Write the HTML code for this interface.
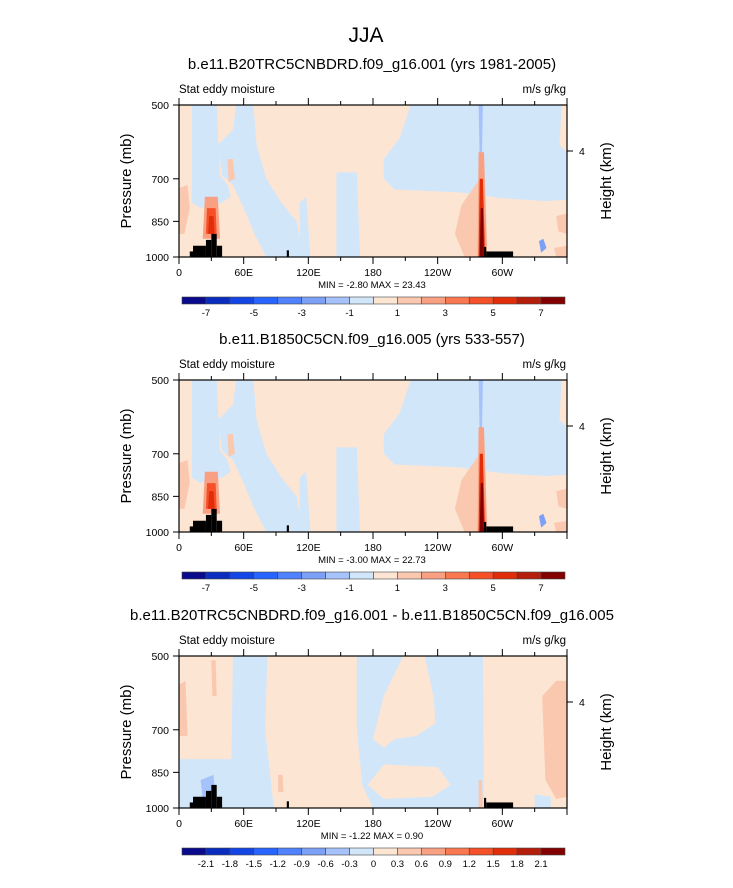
<!DOCTYPE html>
<html><head><meta charset="utf-8"><style>
body{margin:0;background:#fff;width:733px;height:888px;overflow:hidden}
svg{display:block}
text{font-family:"Liberation Sans",sans-serif;fill:#000}
</style></head><body>
<svg id="fig" width="733" height="888"></svg>
<script>
const lonTicks=[0,60,120,180,240,300];
const lonLabels=["0","60E","120E","180","120W","60W"];
const presTicks=[500,700,850,1000];
const colors=['#0a0a8c','#0a2dc0','#1446e6','#2864ff','#5082ff','#7ca0f5','#a5c3fa','#d2e6fa','#fde5d3','#fac8af','#faa082','#fa7850','#f55028','#e12d0a','#b41e0a','#820000'];
const cbLabels1=["-7","","-5","","-3","","-1","","1","","3","","5","","7"];
const cbLabels3=["-2.1","-1.8","-1.5","-1.2","-0.9","-0.6","-0.3","0","0.3","0.6","0.9","1.2","1.5","1.8","2.1"];
const titles=["b.e11.B20TRC5CNBDRD.f09_g16.001 (yrs 1981-2005)","b.e11.B1850C5CN.f09_g16.005 (yrs 533-557)","b.e11.B20TRC5CNBDRD.f09_g16.001 - b.e11.B1850C5CN.f09_g16.005"];
const minmax=["MIN =  -2.80  MAX =  23.43","MIN =  -3.00  MAX =  22.73","MIN =  -1.22  MAX =   0.90"];
// regions: [colorIndex, [[lon,p],...]]
const base12=[
 [7,[[12,500],[35,500],[36,560],[38,690],[45,720],[48,760],[40,780],[20,800],[12,780],[12,650]]],
 [7,[[53,500],[69,500],[72,600],[81,700],[95,780],[109,850],[115,1000],[81,1000],[70,900],[60,800],[50,720],[40,690],[36,600],[50,560]]],
 [7,[[146,680],[165,680],[168,1000],[146,1000]]],
 [7,[[112,780],[118,760],[122,1000],[112,1000]]],
 [7,[[215,500],[355,500],[353,600],[360,620],[360,770],[340,775],[300,765],[260,745],[200,735],[190,700],[190,640],[205,580]]],
 [6,[[278,500],[282,500],[281,640],[279,640]]],
 [5,[[334,930],[338,920],[341,960],[336,980]]],
 [9,[[0,730],[8,720],[10,800],[5,900],[0,900]]],
 [9,[[45,640],[50,640],[52,700],[46,710]]],
 [9,[[262,790],[279,700],[285,1000],[265,1000],[256,900]]],
 [9,[[350,830],[360,820],[360,900],[352,890]]],
 [9,[[348,960],[360,950],[360,1000],[350,1000]]],
 [10,[[24,760],[36,760],[38,920],[22,920]]],
 [12,[[26,800],[34,800],[35,900],[25,900]]],
 [13,[[28,830],[32,830],[33,900],[27,900]]],
 [10,[[278,620],[283,620],[286,1000],[277,1000]]],
 [13,[[279,700],[282,700],[284,1000],[278,1000]]],
 [15,[[280,800],[282,800],[283,1000],[279,1000]]]
];
const base3=[
 [7,[[0,800],[60,800],[60,1000],[0,1000]]],
 [7,[[50,500],[82,500],[80,700],[88,1000],[48,1000]]],
 [7,[[165,500],[282,500],[283,1000],[180,1000],[170,900],[165,700]]],
 [8,[[208,500],[228,500],[236,600],[238,680],[220,720],[200,730],[190,760],[180,730],[190,600]]],
 [8,[[190,820],[240,830],[252,900],[235,950],[190,960],[175,900]]],
 [7,[[330,940],[345,950],[345,1000],[330,1000]]],
 [9,[[0,570],[6,560],[8,720],[0,720]]],
 [9,[[30,510],[34,510],[35,600],[31,600]]],
 [9,[[337,600],[350,560],[360,560],[360,950],[350,960],[340,880]]],
 [9,[[92,860],[96,860],[97,930],[92,930]]],
 [6,[[20,880],[32,860],[34,950],[22,960]]],
 [9,[[278,880],[281,880],[282,1000],[278,1000]]]
];
const terrainLon=[[10,13,975],[13,25,950],[25,30,925],[30,35,900],[35,40,950],[100,102,970],[283,285,955],[285,310,975]];
const panels=[{top:105,regions:base12,cb:cbLabels1},{top:380,regions:base12,cb:cbLabels1},{top:656,regions:base3,cb:cbLabels3}];
const NS="http://www.w3.org/2000/svg";
const svg=document.getElementById('fig');
const L=179,R=567,H=152;
function mk(tag,attrs,parent,txt){const e=document.createElementNS(NS,tag);for(const k in attrs)e.setAttribute(k,attrs[k]);if(txt!==undefined)e.textContent=txt;(parent||svg).appendChild(e);return e;}
const xs=lon=>L+lon/360*(R-L);
const ys=(top,p)=>top+Math.log(p/500)/Math.log(2)*H;
let t=mk('text',{x:366,y:42,'text-anchor':'middle','font-size':21},svg,'JJA');


panels.forEach((pn,i)=>{
 const top=pn.top,bot=top+H;
 const g=mk('g',{},svg);
 
 
 let tt=mk('text',{x:372,y:top-36,'text-anchor':'middle','font-size':15},g,titles[i]);
 
 
 mk('text',{x:179,y:top-12,'font-size':11.5},g,'Stat eddy moisture');
 mk('text',{x:566,y:top-12,'text-anchor':'end','font-size':11.5},g,'m/s g/kg');
 mk('rect',{x:L,y:top,width:R-L,height:H,fill:colors[8]},g);
 pn.regions.forEach(r=>{
  const pts=r[1].map(q=>xs(q[0]).toFixed(1)+','+ys(top,q[1]).toFixed(1)).join(' ');
  const pg=mk('polygon',{points:pts,fill:colors[r[0]]},g);
  
  
 });
 terrainLon.forEach(tr=>{
  const rc=mk('rect',{x:xs(tr[0]),y:ys(top,tr[2]),width:xs(tr[1])-xs(tr[0]),height:bot-ys(top,tr[2]),fill:'#000'},g);
  
  
 });
 mk('rect',{x:L,y:top,width:R-L,height:H,fill:'none',stroke:'#000','stroke-width':1.2},g);
 for(let lon=0;lon<=360;lon+=30){
  const x=xs(lon),len=lon%60==0?7:4;
  mk('line',{x1:x,x2:x,y1:bot,y2:bot+len,stroke:'#000'},g);
  mk('line',{x1:x,x2:x,y1:top,y2:top-len,stroke:'#000'},g);
 }
 lonTicks.forEach((lon,j)=>mk('text',{x:xs(lon),y:bot+19,'text-anchor':'middle','font-size':10.5},g,lonLabels[j]));
 presTicks.forEach(p=>{const y=ys(top,p);mk('line',{x1:L-6,x2:L,y1:y,y2:y,stroke:'#000'},g);mk('text',{x:L-10,y:y+4,'text-anchor':'end','font-size':10.5},g,String(p));});
 const y4=top+46;
 mk('line',{x1:R,x2:R+6,y1:y4,y2:y4,stroke:'#000'},g);
 mk('text',{x:R+12,y:y4+4,'font-size':10.5},g,'4');
 mk('text',{x:0,y:0,'font-size':15,transform:`translate(131,${top+76}) rotate(-90)`,'text-anchor':'middle'},g,'Pressure (mb)');
 mk('text',{x:0,y:0,'font-size':15,transform:`translate(611,${top+76}) rotate(-90)`,'text-anchor':'middle'},g,'Height (km)');
 mk('text',{x:372,y:bot+31,'text-anchor':'middle','font-size':9.5},g,minmax[i]);
 const cy=bot+40,cw=(565-182)/16;
 const cb=mk('g',{},g);
 
 
 colors.forEach((c,k)=>mk('rect',{x:182+k*cw,y:cy,width:cw,height:7,fill:c,stroke:'#444','stroke-width':0.6},cb));
 pn.cb.forEach((lb,k)=>{if(lb)mk('text',{x:182+(k+1)*cw,y:cy+19,'text-anchor':'middle','font-size':9.5},cb,lb);});
});
</script>
</body></html>
